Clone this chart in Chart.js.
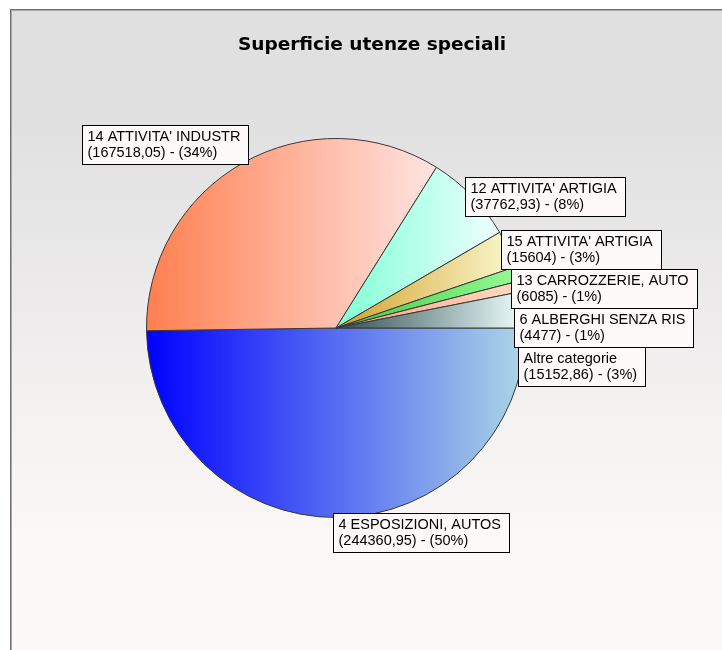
<!DOCTYPE html>
<html>
<head>
<meta charset="utf-8">
<script src="https://cdn.jsdelivr.net/npm/chart.js@4"></script>
<style>
  body { margin: 0; background: #ffffff; }
  canvas { display: block; }
</style>
</head>
<body>
<canvas id="pie-chart" width="722" height="650"></canvas>
<script>
// Chart data
const chartTitle = 'Superficie utenze speciali';
const categories = [
  '4 ESPOSIZIONI, AUTOS',
  "14 ATTIVITA' INDUSTR",
  "12 ATTIVITA' ARTIGIA",
  "15 ATTIVITA' ARTIGIA",
  '13 CARROZZERIE, AUTO',
  '6 ALBERGHI SENZA RIS',
  'Altre categorie'
];
const areaValues = [244360.95, 167518.05, 37762.93, 15604, 6085, 4477, 15152.86];

// Gradient colours per slice (left -> right)
const colorsFrom = ['#0000ff', '#ff7f50', '#7fffd4', '#d4a02a', '#3cc83c', '#ff9f7f', '#2f4f4f'];
const colorsTo = ['#add8e6', '#ffe4e1', '#f0ffff', '#fafad2', '#98fb98', '#ffdcc4', '#f0ffff'];

const total = areaValues.reduce((a, b) => a + b, 0);

// Horizontal gradient spanning the bounding box of each slice
function sliceGradient(context) {
  const chart = context.chart;
  const area = chart.chartArea;
  const i = context.dataIndex;
  if (!area) return colorsFrom[i];
  const cx = (area.left + area.right) / 2;
  const r = Math.min(area.width, area.height) / 2;
  let before = 0;
  for (let k = 0; k < i; k++) before += areaValues[k];
  const a1 = before / total * Math.PI * 2;
  const a2 = (before + areaValues[i]) / total * Math.PI * 2;
  const xs = [cx, cx + r * Math.cos(a1), cx + r * Math.cos(a2)];
  if (a1 <= Math.PI && a2 >= Math.PI) xs.push(cx - r);
  if (a1 <= 0) xs.push(cx + r);
  const x0 = Math.min(...xs);
  const x1 = Math.max(...xs);
  const g = chart.ctx.createLinearGradient(x0, 0, x1, 0);
  g.addColorStop(0, colorsFrom[i]);
  g.addColorStop(1, colorsTo[i]);
  return g;
}

// Background, frame and title
const backgroundPlugin = {
  id: 'background',
  beforeDraw(chart) {
    const ctx = chart.ctx;
    ctx.save();
    ctx.fillStyle = '#ffffff';
    ctx.fillRect(0, 0, chart.width, chart.height);
    const bg = ctx.createLinearGradient(0, 110, 0, 540);
    bg.addColorStop(0, '#e0e0e0');
    bg.addColorStop(1, '#fcf8f8');
    ctx.fillStyle = bg;
    ctx.fillRect(10, 9, chart.width, chart.height);
    ctx.fillStyle = '#707070';
    ctx.fillRect(10, 9, chart.width, 1);
    ctx.fillRect(10, 9, 1, chart.height);
    ctx.fillStyle = '#a8a8a8';
    ctx.fillRect(11, 10, chart.width, 1);
    ctx.fillRect(11, 10, 1, chart.height);

    ctx.font = 'bold 18.5px "DejaVu Sans"';
    ctx.fillStyle = '#000000';
    ctx.textAlign = 'center';
    ctx.textBaseline = 'middle';
    ctx.fillText(chartTitle, 372, 45);
    ctx.restore();
  }
};

// Boxed labels next to the slices
const boxLabelPlugin = {
  id: 'boxLabels',
  afterDatasetsDraw(chart) {
    const ctx = chart.ctx;
    const meta = chart.getDatasetMeta(0);
    const boxH = 39;
    ctx.save();
    ctx.font = '14.5px "Liberation Sans"';
    const boxes = meta.data.map((arc, i) => {
      const mid = (arc.startAngle + arc.endAngle) / 2;
      const c = Math.cos(mid);
      const s = Math.sin(mid);
      const ax = arc.x + arc.outerRadius * c;
      const ay = arc.y + arc.outerRadius * s;
      const pct = Math.round(areaValues[i] / total * 100);
      const lines = [categories[i], '(' + String(areaValues[i]).replace('.', ',') + ') - (' + pct + '%)'];
      const w = Math.ceil(Math.max(...lines.map(l => ctx.measureText(l).width))) + 13;
      let left, top, side;
      if (s > 0.9) {
        left = ax - 4; top = ay - 4; side = 'bottom';
      } else if (c >= 0) {
        left = ax - 7; top = ay - boxH / 2; side = 'right';
      } else {
        left = ax + 5 - w; top = s < -0.5 ? ay + 1 - boxH : ay - boxH / 2; side = 'left';
      }
      return { lines, left, top, w, side, ay };
    });

    // push overlapping right side boxes downwards
    const right = boxes.filter(b => b.side === 'right').sort((a, b) => a.ay - b.ay);
    for (let k = 1; k < right.length; k++) {
      const prevBottom = right[k - 1].top + boxH;
      if (right[k].top < prevBottom) right[k].top = prevBottom;
    }

    boxes.forEach(b => {
      const x = Math.round(b.left) + 0.5;
      const y = Math.round(b.top) + 0.5;
      ctx.fillStyle = '#fffafa';
      ctx.fillRect(x, y, b.w, boxH);
      ctx.strokeStyle = '#000000';
      ctx.lineWidth = 1;
      ctx.strokeRect(x, y, b.w, boxH);
      ctx.fillStyle = '#000000';
      ctx.textAlign = 'left';
      ctx.textBaseline = 'alphabetic';
      ctx.fillText(b.lines[0], x + 5, y + 15);
      ctx.fillText(b.lines[1], x + 5, y + 31);
    });
    ctx.restore();
  }
};

const chart = new Chart(document.getElementById('pie-chart'), {
  type: 'pie',
  data: {
    labels: categories,
    datasets: [{
      data: areaValues,
      backgroundColor: sliceGradient,
      borderColor: '#383838',
      borderWidth: 1
    }]
  },
  options: {
    responsive: false,
    animation: false,
    rotation: 90,
    layout: {
      padding: { left: 146, right: 196, top: 138, bottom: 132 }
    },
    plugins: {
      legend: { display: false },
      title: { display: false },
      tooltip: { enabled: false }
    }
  },
  plugins: [backgroundPlugin, boxLabelPlugin]
});
</script>
</body>
</html>
